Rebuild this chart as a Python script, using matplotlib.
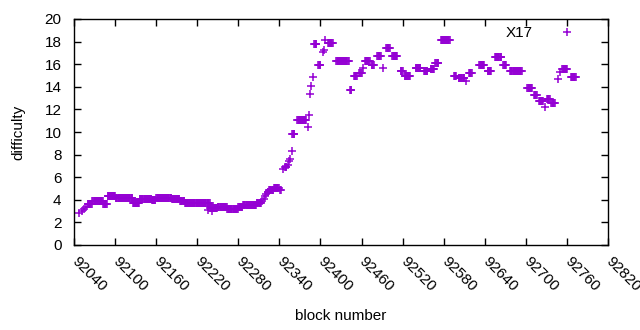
import numpy as np
import matplotlib
matplotlib.use("Agg")
import matplotlib.pyplot as plt

# runs of blocks with (about) the same difficulty
seg_start = [92048, 92051, 92054, 92057, 92060, 92067, 92083, 92089, 92101, 92126,
             92136, 92154, 92160, 92183, 92195, 92202, 92236, 92239, 92241, 92250,
             92264, 92280, 92287, 92307, 92315, 92317, 92319, 92321, 92323, 92325,
             92332, 92341, 92346, 92348, 92352, 92354, 92356, 92358, 92359, 92366,
             92382, 92383, 92385, 92386, 92389, 92391, 92397, 92403, 92405, 92407,
             92411, 92423, 92443, 92449, 92457, 92462, 92465, 92475, 92483, 92492,
             92496, 92505, 92517, 92523, 92539, 92551, 92561, 92568, 92576, 92595,
             92602, 92613, 92617, 92632, 92644, 92655, 92667, 92677, 92702, 92712,
             92719, 92728, 92731, 92737, 92747, 92750, 92753, 92766]
seg_end = [92048, 92051, 92054, 92057, 92066, 92082, 92088, 92100, 92125, 92135,
           92153, 92159, 92182, 92194, 92201, 92238, 92236, 92249, 92241, 92263,
           92279, 92286, 92306, 92313, 92315, 92317, 92319, 92321, 92324, 92331,
           92339, 92342, 92346, 92350, 92352, 92354, 92356, 92358, 92362, 92379,
           92382, 92383, 92385, 92386, 92389, 92394, 92400, 92403, 92405, 92407,
           92418, 92441, 92445, 92453, 92460, 92462, 92472, 92478, 92488, 92492,
           92501, 92512, 92520, 92531, 92546, 92556, 92566, 92572, 92589, 92598,
           92610, 92613, 92621, 92639, 92649, 92664, 92671, 92694, 92709, 92716,
           92725, 92728, 92735, 92742, 92747, 92750, 92760, 92773]
seg_diff = [2.8, 3.0, 3.2, 3.4, 3.65, 3.9, 3.65, 4.3, 4.15, 3.75,
            4.1, 3.95, 4.2, 4.05, 3.85, 3.75, 3.1, 3.25, 3.0, 3.35,
            3.2, 3.35, 3.55, 3.7, 3.9, 4.1, 4.3, 4.5, 4.7, 4.9,
            5.05, 4.9, 6.7, 6.9, 7.1, 7.4, 7.6, 8.3, 9.8, 11.1,
            10.4, 11.5, 13.4, 14.1, 14.9, 17.8, 15.9, 17.1, 17.3, 18.1,
            17.9, 16.3, 13.7, 15.0, 15.25, 15.7, 16.3, 15.9, 16.7, 15.7,
            17.4, 16.7, 15.4, 14.95, 15.7, 15.4, 15.6, 16.1, 18.1, 15.0,
            14.8, 14.5, 15.2, 15.9, 15.4, 16.6, 15.9, 15.4, 13.9, 13.3,
            12.7, 12.25, 12.95, 12.6, 14.7, 15.3, 15.6, 14.9]

x_ticks = list(range(92040, 92821, 60))
y_ticks = list(range(0, 21, 2))

blocks = []
diffs = []
for s, e, d in zip(seg_start, seg_end, seg_diff):
    for b in range(s, e + 1):
        blocks.append(b)
        diffs.append(d)
blocks = np.array(blocks)
diffs = np.array(diffs)

plt.rcParams['font.family'] = ['Liberation Sans', 'DejaVu Sans']
plt.rcParams['font.size'] = 11

fig = plt.figure(figsize=(6.4, 3.3), dpi=100)
ax = fig.add_axes([74 / 640, 1 - 245 / 330, 534 / 640, 226 / 330])

ax.plot(blocks, diffs, linestyle='none', marker='+', markersize=6.2,
        markeredgewidth=1.1, color='#9400d3', label='X17')

ax.set_xlim(92040, 92820)
ax.set_ylim(0, 20)
ax.set_xticks(x_ticks)
ax.set_yticks(y_ticks)
ax.tick_params(direction='in', top=True, right=True, length=5, width=1)
ax.tick_params(axis='y', pad=9)
ax.tick_params(axis='x', pad=10)
for lbl in ax.get_xticklabels():
    lbl.set_rotation(-45)
    lbl.set_ha('left')
    lbl.set_va('center')
    lbl.set_rotation_mode('anchor')
for sp in ax.spines.values():
    sp.set_linewidth(1)

ax.set_xlabel('block number', labelpad=11)
ax.set_ylabel('difficulty', labelpad=14)

ax.legend(loc='upper right', bbox_to_anchor=(0.977, 1.03), frameon=False,
          markerfirst=False, handlelength=2.0, handletextpad=1.2,
          markerscale=1.0)

fig.savefig('out.png', dpi=100)
